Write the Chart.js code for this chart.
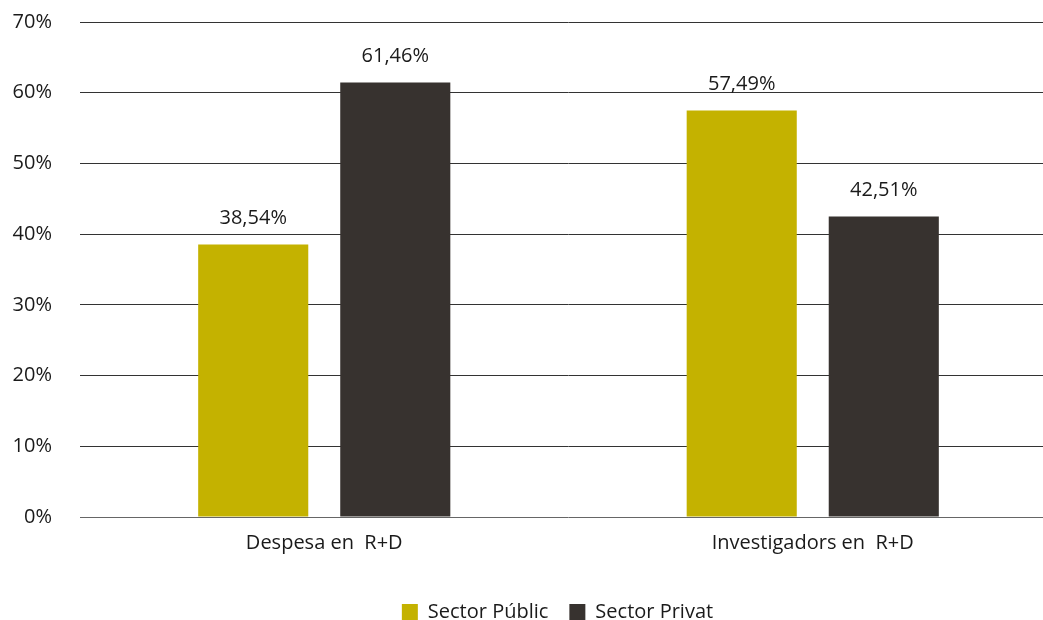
<!DOCTYPE html>
<html>
<head>
<meta charset="utf-8">
<script src="https://cdn.jsdelivr.net/npm/chart.js@4"></script>
<style>
  html, body { margin: 0; padding: 0; background: #fff; overflow: hidden; }
  #wrap { width: 1043px; height: 620px; overflow: hidden; }
</style>
</head>
<body>
<div id="wrap">
  <canvas id="chart" width="1060" height="632"></canvas>
</div>
<script>
    const categories = ['Despesa en  R+D', 'Investigadors en  R+D'];
    const seriesNames = ['Sector Públic', 'Sector Privat'];
    const publicValues = [38.54, 57.49];
    const privateValues = [61.46, 42.51];
    const yTicks = [0, 10, 20, 30, 40, 50, 60, 70];

    const colors = ['#c4b200', '#37322f'];
    const fontFamily = "'Open Sans', sans-serif";
    Chart.defaults.font.family = fontFamily;
    Chart.defaults.color = '#1a1a1a';

    // value labels above each bar, e.g. 61,46%
    const valueLabels = {
      id: 'valueLabels',
      afterDatasetsDraw(chart) {
        const ctx = chart.ctx;
        ctx.save();
        ctx.font = '20px ' + fontFamily;
        ctx.fillStyle = '#1a1a1a';
        ctx.textAlign = 'center';
        ctx.textBaseline = 'alphabetic';
        chart.data.datasets.forEach((ds, i) => {
          chart.getDatasetMeta(i).data.forEach((bar, j) => {
            const txt = ds.data[j].toFixed(2).replace('.', ',') + '%';
            ctx.fillText(txt, bar.x, bar.y - 20);
          });
        });
        ctx.restore();
      }
    };

    // legend sits a little left of the plot centre
    const legendShift = {
      id: 'legendShift',
      afterLayout(chart) {
        chart.legend.left -= 11;
        chart.legend.right -= 11;
      }
    };

    new Chart(document.getElementById('chart'), {
      type: 'bar',
      data: {
        labels: categories,
        datasets: [
          { label: seriesNames[0], data: publicValues, backgroundColor: colors[0] },
          { label: seriesNames[1], data: privateValues, backgroundColor: colors[1] }
        ]
      },
      options: {
        responsive: false,
        animation: false,
        barPercentage: 0.775,
        categoryPercentage: 0.5816,
        layout: { padding: { top: 22, right: 3, left: 0, bottom: 0 } },
        scales: {
          x: {
            grid: { display: false, drawTicks: false },
            border: { display: false },
            ticks: { font: { size: 20 }, padding: 14, color: '#1a1a1a' },
            afterFit(s) { s.height = 64; }
          },
          y: {
            min: 0,
            max: 70,
            afterBuildTicks(s) { s.ticks = yTicks.map(v => ({ value: v })); },
            grid: {
              drawTicks: true,
              tickLength: 28,
              tickColor: 'rgba(0,0,0,0)',
              color: c => c.tick && c.tick.value === 0 ? '#666' : '#333'
            },
            border: { display: false },
            ticks: {
              padding: 0,
              font: { size: 20 },
              color: '#1a1a1a',
              callback: v => v + '%'
            },
            afterFit(s) { s.width = 80; }
          }
        },
        plugins: {
          legend: {
            position: 'bottom',
            fullSize: false,
            labels: {
              boxWidth: 16,
              boxHeight: 16,
              padding: 21,
              font: { size: 20 },
              color: '#1a1a1a'
            }
          },
          tooltip: { enabled: false }
        }
      },
      plugins: [valueLabels, legendShift]
    });
</script>
</body>
</html>
